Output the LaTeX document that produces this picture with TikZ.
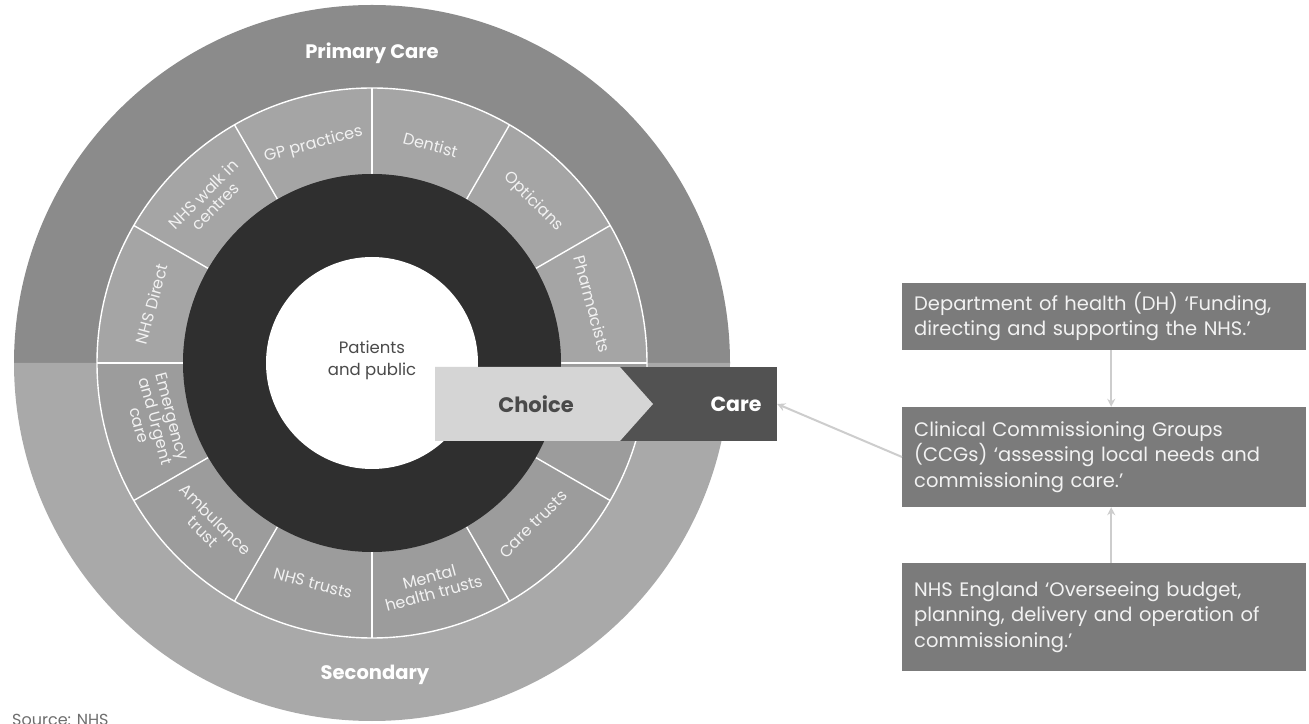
\documentclass[tikz,border=0pt]{standalone}
\usepackage{fontspec}
\setmainfont{Poppins}
\usetikzlibrary{arrows.meta,calc}

\definecolor{primaryring}{HTML}{8B8B8B}
\definecolor{secondaryring}{HTML}{A9A9A9}
\definecolor{primaryseg}{HTML}{A5A5A5}
\definecolor{secondaryseg}{HTML}{9C9C9C}
\definecolor{corering}{HTML}{2F2F2F}
\definecolor{choicefill}{HTML}{D5D5D5}
\definecolor{carefill}{HTML}{525252}
\definecolor{bodyfill}{HTML}{7B7B7B}
\definecolor{bodytext}{HTML}{F2F2F2}
\definecolor{linkgray}{HTML}{CDCDCD}
\definecolor{darktext}{HTML}{4A4A4A}

\begin{document}
\begin{tikzpicture}[x=1pt,y=1pt,
  segline/.style={draw=white,line width=1.4pt},
  seglabel/.style={text=white!95!black,font=\fontsize{16}{17}\selectfont,align=center,inner sep=0pt},
  ringlabel/.style={text=white,font=\bfseries\fontsize{19.5}{20}\selectfont,inner sep=0pt},
  bodybox/.style={fill=bodyfill,text=bodytext,anchor=west,align=left,
    text width=380pt,inner xsep=12pt,inner ysep=0pt,
    font=\fontsize{19.5}{25.5}\selectfont},
  link/.style={draw=linkgray,line width=2pt,-{Stealth[length=8pt,width=8pt]}}
]
\useasboundingbox (0,0) rectangle (1309,723);
\fill[white] (0,0) rectangle (1309,723);

% ---------- the care wheel ----------
\begin{scope}[shift={(372,360)}]
  % outer ring: primary (top) and secondary (bottom)
  \fill[primaryring] (0:358) arc[start angle=0,end angle=180,radius=358] -- cycle;
  \fill[secondaryring] (180:358) arc[start angle=180,end angle=360,radius=358] -- cycle;
  % service segments
  \foreach \a in {0,30,...,150}
    \fill[primaryseg] (\a:275) arc[start angle=\a,delta angle=30,radius=275]
      -- (\a+30:189) arc[start angle=\a+30,delta angle=-30,radius=189] -- cycle;
  \foreach \a in {180,210,...,330}
    \fill[secondaryseg] (\a:275) arc[start angle=\a,delta angle=30,radius=275]
      -- (\a+30:189) arc[start angle=\a+30,delta angle=-30,radius=189] -- cycle;
  \draw[segline] (0,0) circle[radius=275];
  \foreach \a in {0,30,...,330}
    \draw[segline] (\a:189) -- (\a:275);
  % dark ring and centre
  \fill[corering] (0,0) circle[radius=189];
  \fill[white] (0,0) circle[radius=106];

  % segment labels, upper half
  \node[seglabel,rotate=75]  (sDirect) at (165:228) {NHS Direct};
  \node[seglabel,rotate=45]  (sWalk)   at (135:230) {NHS walk in\\centres};
  \node[seglabel,rotate=15]  (sGP)     at (105:226) {GP practices};
  \node[seglabel,rotate=-15] (sDent)   at (75:226)  {Dentist};
  \node[seglabel,rotate=-45] (sOpt)    at (45:228)  {Opticians};
  \node[seglabel,rotate=-75] (sPharm)  at (15:228)  {Pharmacists};
  % segment labels, lower half
  \node[seglabel,rotate=-75] (sEmerg)  at (195:224) {Emergency\\and Urgent\\care};
  \node[seglabel,rotate=-45] (sAmb)    at (225:230) {Ambulance\\trust};
  \node[seglabel,rotate=-15] (sTrusts) at (255:228) {NHS trusts};
  \node[seglabel,rotate=15]  (sMental) at (285:230) {Mental\\health trusts};
  \node[seglabel,rotate=45]  (sCare)   at (315:228) {Care trusts};

  % ring titles
  \node[ringlabel] (primary)   at (0,310)  {Primary Care};
  \node[ringlabel] (secondary) at (3,-312) {Secondary};

  % centre text
  \node[text=darktext,align=center,font=\fontsize{16.5}{22}\selectfont] (patients) at (0,3) {Patients\\and public};
\end{scope}

% ---------- choice / care arrow ----------
\node[fill=carefill,minimum width=159pt,minimum height=74pt,inner sep=0pt] (carebox) at (697.5,319) {};
\fill[choicefill] (435,356) -- (620,356) -- (653,319) -- (620,282) -- (435,282) -- cycle;
\node[text=darktext,font=\bfseries\fontsize{21}{22}\selectfont] (choice) at (536,319) {Choice};
\node[text=white,font=\bfseries\fontsize{20.5}{22}\selectfont] (care) at (736,319) {Care};

% ---------- governance boxes ----------
\node[bodybox,minimum height=67pt]  (dh)  at (902,406.5) {Department of health (DH) ‘Funding,\\directing and supporting the NHS.’};
\node[bodybox,minimum height=100pt] (ccg) at (902,266)   {Clinical Commissioning Groups\\(CCGs) ‘assessing local needs and\\commissioning care.’};
\node[bodybox,minimum height=108pt] (nhse) at (902,106)  {NHS England ‘Overseeing budget,\\planning, delivery and operation of\\commissioning.’};

\draw[link] ([xshift=7pt]dh.south) -- ([xshift=7pt]ccg.north);
\draw[link] ([xshift=7pt]nhse.north) -- ([xshift=7pt]ccg.south);
\draw[link] (ccg.west) -- (carebox.east);

% ---------- source note ----------
\node[anchor=base west,text=darktext!80,font=\fontsize{16}{17}\selectfont,inner sep=0pt] (source) at (12,-2) {Source: NHS};
\end{tikzpicture}
\end{document}
